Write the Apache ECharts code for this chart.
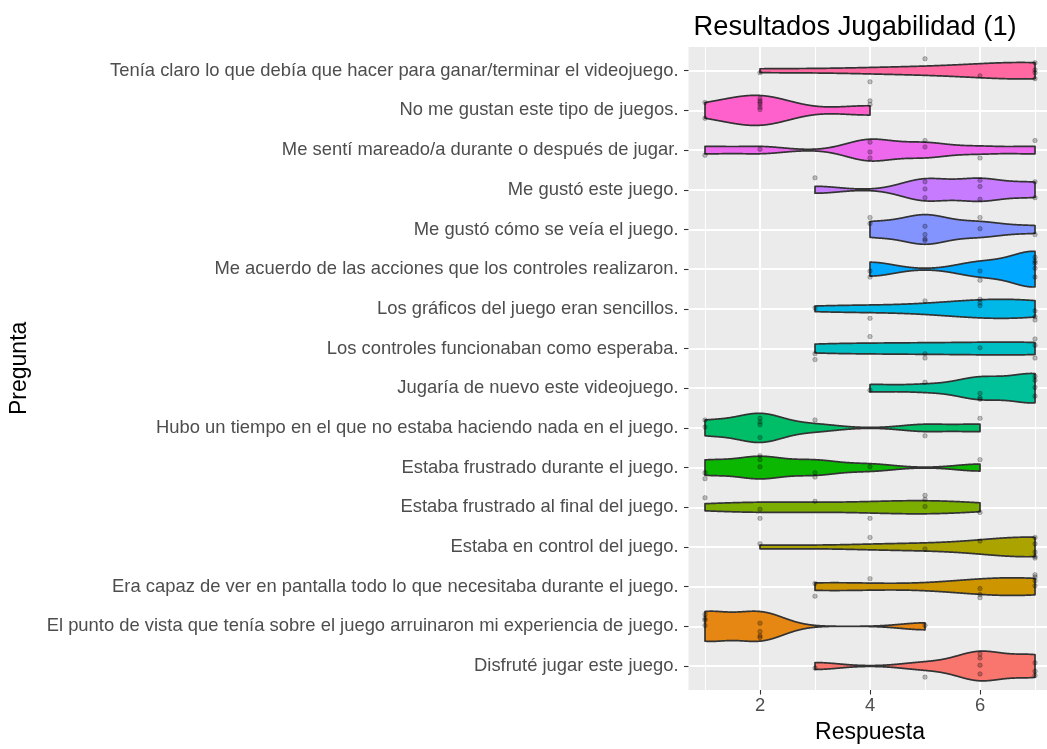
<!DOCTYPE html>
<html><head><meta charset="utf-8">
<script src="https://cdn.jsdelivr.net/npm/echarts@6/dist/echarts.min.js"></script>
<style>html,body{margin:0;padding:0;background:#fff}#c{width:1047px;height:749px}</style>
</head><body><div id="c"></div>
<script>
// Categories, bottom to top (factor level order)
const questions = [
  "Disfruté jugar este juego.",
  "El punto de vista que tenía sobre el juego arruinaron mi experiencia de juego.",
  "Era capaz de ver en pantalla todo lo que necesitaba durante el juego.",
  "Estaba en control del juego.",
  "Estaba frustrado al final del juego.",
  "Estaba frustrado durante el juego.",
  "Hubo un tiempo en el que no estaba haciendo nada en el juego.",
  "Jugaría de nuevo este videojuego.",
  "Los controles funcionaban como esperaba.",
  "Los gráficos del juego eran sencillos.",
  "Me acuerdo de las acciones que los controles realizaron.",
  "Me gustó cómo se veía el juego.",
  "Me gustó este juego.",
  "Me sentí mareado/a durante o después de jugar.",
  "No me gustan este tipo de juegos.",
  "Tenía claro lo que debía que hacer para ganar/terminar el videojuego."
];
const responses = [
  [3,5,6,6,6,6,7,7,7],
  [1,1,1,1,2,2,2,2,5],
  [3,3,4,6,6,6,7,7,7,7],
  [2,4,5,6,7,7,7,7,7],
  [1,2,2,3,4,5,5,5,6],
  [1,1,2,2,2,3,3,4,6],
  [1,1,2,2,2,2,3,5,6],
  [4,5,6,6,6,7,7,7,7],
  [3,3,4,5,5,6,7,7,7],
  [3,4,5,6,6,6,7,7,7],
  [4,4,6,6,7,7,7,7,7],
  [4,4,5,5,5,5,6,6,7],
  [3,5,5,5,6,6,6,7,7],
  [1,2,4,4,4,5,5,6,7],
  [1,1,2,2,2,2,2,2,4,4],
  [2,4,5,6,7,7,7,7]
];
const colors = ["#F8766D","#E68613","#CD9600","#ABA300","#7CAE00","#0CB702","#00BE67","#00C19A",
                "#00BFC4","#00B8E7","#00A9FF","#8494FF","#C77CFF","#ED68ED","#FF61CC","#FF68A1"];
const xMajorTicks = [2,4,6];
const xMinorTicks = [1,3,5,7];
const titleText = "Resultados Jugabilidad (1)";
const xTitle = "Respuesta";
const yTitle = "Pregunta";

// vertical jitter pattern for the dots (layout only)
const JIT = [0.08,-0.2,0.24,-0.05,0.15,-0.28,0.3,-0.13,0.02,-0.24,0.2];

// ---- violin density (gaussian KDE, bw.nrd0, trimmed, scale = "area") ----
function sdev(a){const m=a.reduce((s,v)=>s+v,0)/a.length;return Math.sqrt(a.reduce((s,v)=>s+(v-m)*(v-m),0)/(a.length-1));}
function q7(s,p){const h=(s.length-1)*p;const lo=Math.floor(h);const hi=Math.min(lo+1,s.length-1);return s[lo]+(h-lo)*(s[hi]-s[lo]);}
function bwNrd0(a){const s=[...a].sort((x,y)=>x-y);const hi=sdev(a);let lo=Math.min(hi,(q7(s,.75)-q7(s,.25))/1.34);
  if(!(lo>0)) lo = hi || Math.abs(a[0]) || 1; return 0.9*lo*Math.pow(a.length,-0.2);}
const profiles = responses.map(a=>{
  const bw=bwNrd0(a), mn=Math.min(...a), mx=Math.max(...a), N=512, out=[];
  for(let k=0;k<N;k++){const x=mn+(mx-mn)*k/(N-1);let d=0;
    for(const v of a){const z=(x-v)/bw;d+=Math.exp(-0.5*z*z);} d/=a.length*bw*Math.sqrt(2*Math.PI); out.push([x,d]);}
  return out;
});
const dmax = Math.max(...profiles.map(p=>Math.max(...p.map(q=>q[1]))));

const points = [];
responses.forEach((a,i)=>{const cnt={};a.forEach(v=>{cnt[v]=(cnt[v]||0);points.push([v,i+JIT[(cnt[v]*2+i*3+v)%JIT.length]]);cnt[v]++;});});

const FONT = "'Liberation Sans', Arial, sans-serif";
const chart = echarts.init(document.getElementById('c'), null, {renderer:'canvas'});
chart.setOption({
  animation:false,
  backgroundColor:'#ffffff',
  title:{text:titleText,left:688.5,top:9,textStyle:{fontFamily:FONT,fontSize:27.3,fontWeight:'normal',color:'#000'}},
  grid:[
    {left:688.5,width:363,top:70.7,bottom:83,show:false,containLabel:false,outerBoundsMode:'none'},
    {left:688.5,width:363,top:47,bottom:59,show:true,backgroundColor:'#EBEBEB',borderWidth:0,containLabel:false,outerBoundsMode:'none'}
  ],
  xAxis:[
    {gridIndex:0,type:'value',min:0.7,max:7.3,show:false,splitLine:{show:false}},
    {gridIndex:1,type:'value',min:0.7,max:7.3,position:'bottom',
      axisLine:{show:false},
      axisTick:{show:true,length:4.5,customValues:xMajorTicks,lineStyle:{color:'#333333',width:1.1}},
      axisLabel:{show:true,customValues:xMajorTicks,margin:7,fontFamily:FONT,fontSize:18.4,color:'#4D4D4D'},
      splitLine:{show:true,lineStyle:{color:'#ffffff',width:2}},
      name:xTitle,nameLocation:'middle',nameGap:31,nameTextStyle:{fontFamily:FONT,fontSize:23,color:'#000'}},
    {gridIndex:1,type:'value',min:0.7,max:7.3,position:'top',
      axisLine:{show:false},axisTick:{show:false,customValues:xMinorTicks},axisLabel:{show:false,customValues:xMinorTicks},
      splitLine:{show:true,lineStyle:{color:'#ffffff',width:1}}}
  ],
  yAxis:[
    {gridIndex:0,type:'value',min:0,max:15,interval:1,
      axisLine:{show:false},
      axisTick:{show:true,length:4.5,lineStyle:{color:'#333333',width:1.1}},
      axisLabel:{show:true,margin:10,fontFamily:FONT,fontSize:18.4,color:'#4D4D4D',formatter:v=>questions[v]||''},
      splitLine:{show:true,lineStyle:{color:'#ffffff',width:2}},
      name:yTitle,nameLocation:'middle',nameGap:657,nameRotate:90,nameTextStyle:{fontFamily:FONT,fontSize:23,color:'#000'}},
    {gridIndex:1,type:'value',min:0,max:1,show:false,splitLine:{show:false}}
  ],
  series:[
    {type:'custom',xAxisIndex:0,yAxisIndex:0,clip:false,silent:true,
      data:questions.map((q,i)=>[4,i]),encode:{x:0,y:1},
      renderItem:(params,api)=>{
        const i=params.dataIndex, prof=profiles[i], top=[], bot=[];
        for(const [x,d] of prof){const w=0.45*d/dmax;top.push(api.coord([x,i+w]));bot.push(api.coord([x,i-w]));}
        return {type:'polygon',shape:{points:top.concat(bot.reverse())},
          style:{fill:colors[i],stroke:'#333333',lineWidth:1.7,lineJoin:'round'}};
      }},
    {type:'scatter',xAxisIndex:0,yAxisIndex:0,clip:false,silent:true,z:5,
      data:points,symbol:'circle',symbolSize:4.5,
      itemStyle:{color:'rgba(0,0,0,0.3)',borderColor:'rgba(0,0,0,0.4)',borderWidth:0.7}}
  ]
});
</script></body></html>
